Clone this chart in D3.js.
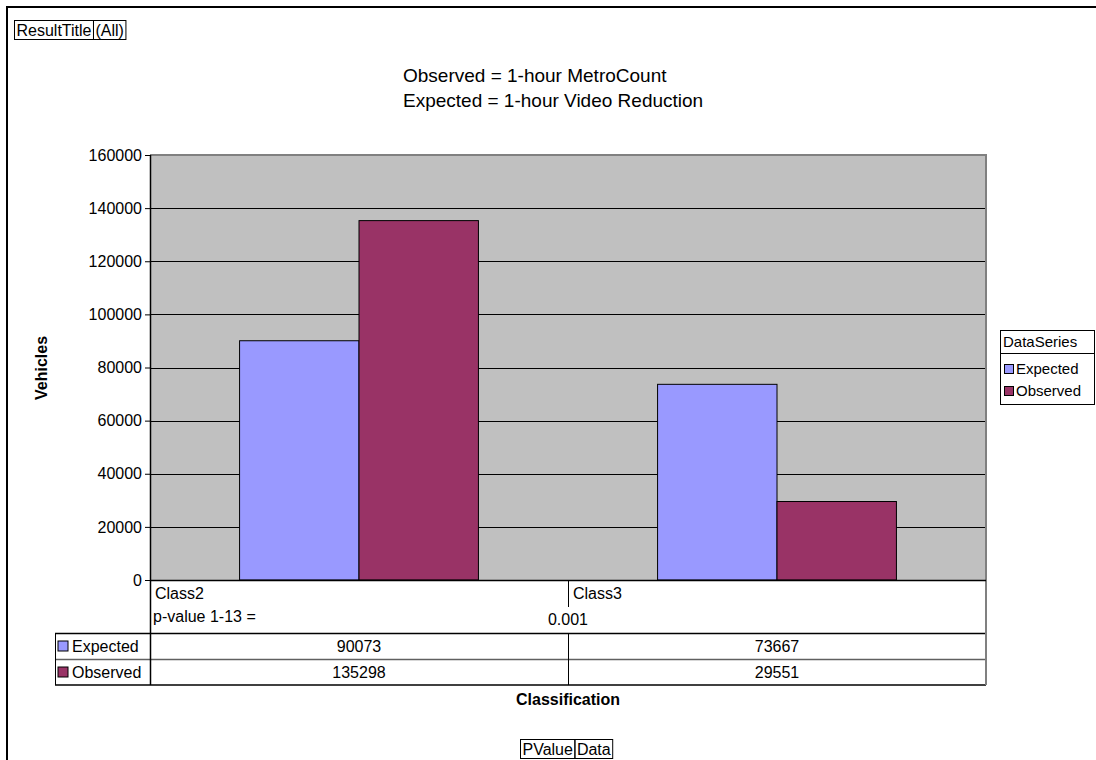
<!DOCTYPE html>
<html><head><meta charset="utf-8">
<script src="https://cdn.jsdelivr.net/npm/d3@7"></script>
<style>
body{margin:0;background:#fff;}
svg{display:block;font-family:"Liberation Sans",Arial,sans-serif;}
</style></head>
<body>
<svg id="chart" width="1096" height="760"></svg>
<script>
const categories = ["Class2", "Class3"];
const seriesNames = ["Expected", "Observed"];
const expectedValues = [90073, 73667];
const observedValues = [135298, 29551];
const yTickValues = [0, 20000, 40000, 60000, 80000, 100000, 120000, 140000, 160000];
const titleLines = ["Observed = 1-hour MetroCount", "Expected = 1-hour Video Reduction"];
const pValueLabel = "p-value 1-13 =";
const pValue = "0.001";

const seriesValues = {Expected: expectedValues, Observed: observedValues};
const seriesColors = {Expected: "#9999FF", Observed: "#993366"};

const svg = d3.select("#chart");
const L = 150, R = 986, T = 155, B = 580;

// outer border
svg.append("rect").attr("x", 7).attr("y", 7).attr("width", 1100).attr("height", 800)
  .attr("fill", "none").attr("stroke", "#000").attr("stroke-width", 2);

// page field buttons
function fieldButton(x, y, labels) {
  const g = svg.append("g");
  let cx = x;
  labels.forEach(t => {
    const txt = g.append("text").attr("x", cx + 2).attr("y", y + 15).attr("font-size", 16).text(t);
    const w = txt.node().getComputedTextLength() + 4;
    g.append("rect").attr("x", cx).attr("y", y).attr("width", w).attr("height", 19)
      .attr("fill", "none").attr("stroke", "#000").attr("stroke-width", 1);
    cx += w;
  });
  return cx - x;
}
fieldButton(14.5, 20.5, ["ResultTitle", "(All)"]);

// title
svg.append("g").selectAll("text").data(titleLines).join("text")
  .attr("x", 403).attr("y", (d, i) => 82 + i * 25)
  .attr("font-size", 19).text(d => d);

// scales
const x = d3.scaleBand().domain(categories).range([L, R]);
const xs = d3.scaleBand().domain(seriesNames).range([0, x.bandwidth()]).paddingInner(0).paddingOuter(0.75);
const y = d3.scaleLinear().domain([0, 160000]).range([B, T]);

// plot area
svg.append("rect").attr("x", L).attr("y", T).attr("width", R - L).attr("height", B - T).attr("fill", "#C0C0C0");
svg.append("g").selectAll("line").data(yTickValues.filter(v => v > 0 && v < 160000)).join("line")
  .attr("x1", L).attr("x2", R).attr("y1", d => Math.round(y(d)) + 0.5).attr("y2", d => Math.round(y(d)) + 0.5)
  .attr("stroke", "#000").attr("stroke-width", 1);
svg.append("path").attr("d", `M${L},${T}H${R}V${B}`).attr("fill", "none").attr("stroke", "#808080").attr("stroke-width", 2);

// bars
const barData = [];
categories.forEach((c, ci) => seriesNames.forEach(s => barData.push({c, s, v: seriesValues[s][ci]})));
svg.append("g").selectAll("rect").data(barData).join("rect")
  .attr("x", d => x(d.c) + xs(d.s))
  .attr("y", d => y(d.v))
  .attr("width", xs.bandwidth())
  .attr("height", d => B - y(d.v))
  .attr("fill", d => seriesColors[d.s])
  .attr("stroke", "#000").attr("stroke-width", 1);

// y axis
const yAxis = svg.append("g").attr("transform", `translate(${L},0)`)
  .call(d3.axisLeft(y).tickValues(yTickValues).tickSize(5).tickPadding(3).tickFormat(d3.format("d")));
yAxis.select(".domain").remove();
yAxis.selectAll("text").attr("font-size", 16).attr("font-family", "Liberation Sans, Arial, sans-serif").attr("fill", "#000");
yAxis.selectAll("line").attr("stroke", "#000");

svg.append("text").attr("transform", "translate(47,368) rotate(-90)").attr("text-anchor", "middle")
  .attr("font-size", 16).attr("font-weight", "bold").text("Vehicles");

// data table
const tbl = svg.append("g");
const rowTop = 633, rowH = 26, leftX = 55;
tbl.append("rect").attr("x", L).attr("y", B).attr("width", R - L).attr("height", rowTop - B).attr("fill", "#fff");
tbl.selectAll(".cat").data(categories).join("text")
  .attr("x", d => x(d) + 5).attr("y", 599).attr("font-size", 16).text(d => d);
tbl.append("text").attr("x", L + 3).attr("y", 622).attr("font-size", 16).text(pValueLabel);
tbl.append("text").attr("x", (L + R) / 2).attr("y", 625).attr("text-anchor", "middle").attr("font-size", 16).text(pValue);
tbl.append("line").attr("x1", x(categories[1]) + 0.5).attr("x2", x(categories[1]) + 0.5).attr("y1", B).attr("y2", 607).attr("stroke", "#000");

seriesNames.forEach((s, si) => {
  const ry = rowTop + si * rowH;
  tbl.append("rect").attr("x", leftX + 3).attr("y", ry + 8).attr("width", 10).attr("height", 10)
    .attr("fill", seriesColors[s]).attr("stroke", "#000").attr("stroke-width", 1);
  tbl.append("text").attr("x", leftX + 17).attr("y", ry + 19).attr("font-size", 16).text(s);
  categories.forEach((c, ci) => {
    tbl.append("text").attr("x", x(c) + x.bandwidth() / 2).attr("y", ry + 19).attr("text-anchor", "middle")
      .attr("font-size", 16).text(seriesValues[s][ci]);
  });
  tbl.append("line").attr("x1", leftX).attr("x2", R).attr("y1", ry + 0.5).attr("y2", ry + 0.5)
    .attr("stroke", si === 0 ? "#000" : "#606060").attr("stroke-width", 1.5);
});
const tblBottom = rowTop + 2 * rowH;
tbl.append("line").attr("x1", leftX).attr("x2", R).attr("y1", tblBottom).attr("y2", tblBottom).attr("stroke", "#000").attr("stroke-width", 1.5);
tbl.append("line").attr("x1", leftX + 0.5).attr("x2", leftX + 0.5).attr("y1", rowTop).attr("y2", tblBottom).attr("stroke", "#000");
tbl.append("line").attr("x1", x(categories[1]) + 0.5).attr("x2", x(categories[1]) + 0.5).attr("y1", rowTop).attr("y2", tblBottom).attr("stroke", "#000");
tbl.append("line").attr("x1", R).attr("x2", R).attr("y1", B).attr("y2", tblBottom).attr("stroke", "#808080").attr("stroke-width", 2);
tbl.append("line").attr("x1", L).attr("x2", R).attr("y1", B + 0.5).attr("y2", B + 0.5).attr("stroke", "#000").attr("stroke-width", 1.5);
// axis line down through table
svg.append("line").attr("x1", L + 0.5).attr("x2", L + 0.5).attr("y1", T).attr("y2", tblBottom).attr("stroke", "#000").attr("stroke-width", 1.5);

svg.append("text").attr("x", (L + R) / 2).attr("y", 705).attr("text-anchor", "middle")
  .attr("font-size", 16).attr("font-weight", "bold").text("Classification");

// bottom field buttons (centered)
const tmpW = fieldButton(520.5, 739.5, ["PValue", "Data"]);

// legend
const lg = svg.append("g");
lg.append("rect").attr("x", 1000.5).attr("y", 330.5).attr("width", 94).attr("height", 74).attr("fill", "#fff").attr("stroke", "#000");
lg.append("line").attr("x1", 1000).attr("x2", 1095).attr("y1", 353.5).attr("y2", 353.5).attr("stroke", "#000");
lg.append("text").attr("x", 1003).attr("y", 347).attr("font-size", 15).text("DataSeries");
lg.selectAll(".sw").data(seriesNames).join("rect")
  .attr("x", 1004.5).attr("y", (d, i) => 364.5 + i * 22).attr("width", 9).attr("height", 9)
  .attr("fill", d => seriesColors[d]).attr("stroke", "#000");
lg.selectAll(".lt").data(seriesNames).join("text")
  .attr("x", 1016).attr("y", (d, i) => 374 + i * 22).attr("font-size", 15).text(d => d);
</script>
</body></html>
